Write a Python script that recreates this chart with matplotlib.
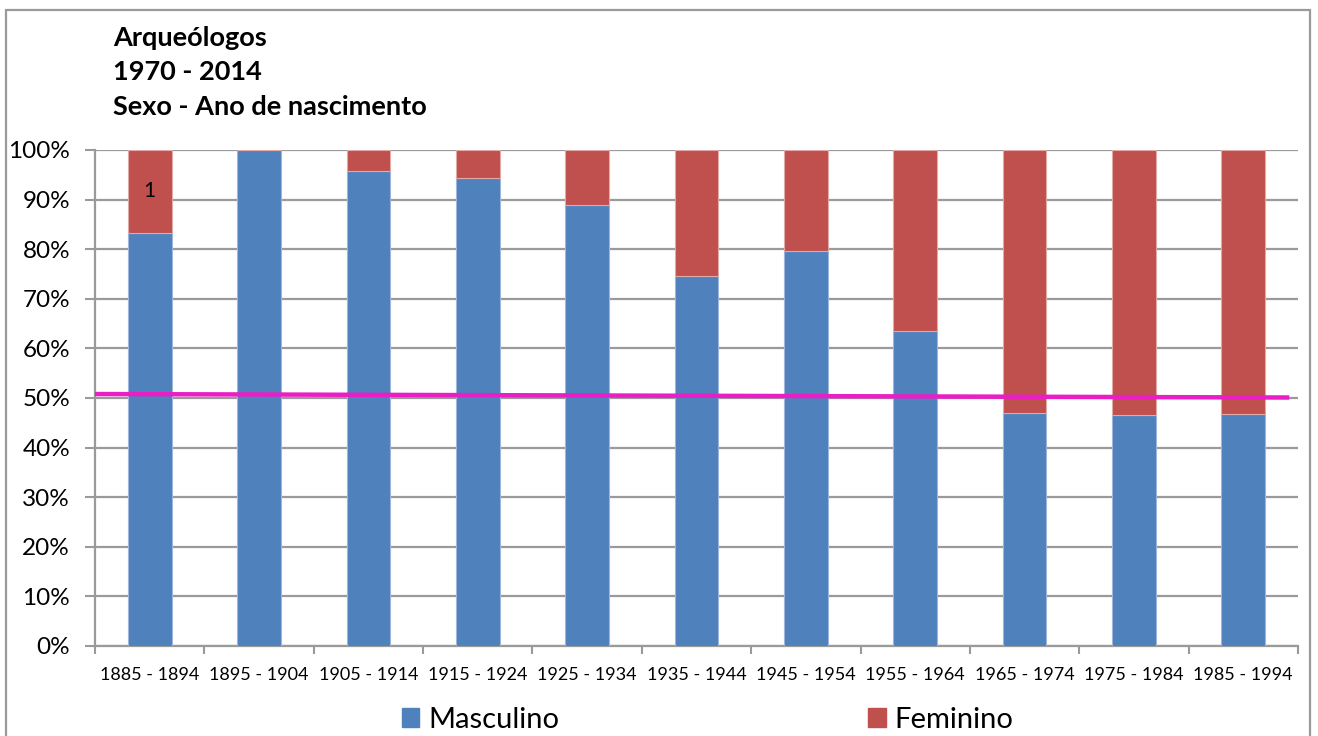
import matplotlib.pyplot as plt
import matplotlib.patches as mpatches
import numpy as np

plt.rcParams['font.family'] = ['Lato', 'DejaVu Sans']

categorias = ['1885 - 1894', '1895 - 1904', '1905 - 1914', '1915 - 1924', '1925 - 1934',
              '1935 - 1944', '1945 - 1954', '1955 - 1964', '1965 - 1974', '1975 - 1984',
              '1985 - 1994']
masculino = [83.3, 100.0, 95.8, 94.4, 88.9, 74.6, 79.6, 63.5, 47.0, 46.6, 46.8]
feminino = [100 - m for m in masculino]
# linha de tendencia (extremos)
tend_x = [-0.5, 10.4]
tend_y = [50.8, 50.1]

azul = '#4F81BD'
vermelho = '#C0504D'

fig = plt.figure(figsize=(13.18, 7.36), dpi=100)
ax = fig.add_axes([0.0721, 0.1223, 0.9127, 0.6739])

x = np.arange(len(categorias))
ax.bar(x, masculino, width=0.4, color=azul, edgecolor='#9DB6DA', linewidth=0.8, zorder=3)
ax.bar(x, feminino, width=0.4, bottom=masculino, color=vermelho, edgecolor='#E3A9A7',
       linewidth=0.8, zorder=3)
ax.text(x[0], masculino[0] + feminino[0] / 2, '1', ha='center', va='center', fontsize=15, zorder=4)
ax.plot(tend_x, tend_y, color='#E91EC4', linewidth=3.2, zorder=5)

ax.set_xlim(-0.5, len(categorias) - 0.5)
ax.set_ylim(0, 100)
ax.set_yticks(np.arange(0, 101, 10))
ax.set_yticklabels(['%d%%' % v for v in range(0, 101, 10)], fontsize=17.5)
ax.yaxis.grid(True, color='#9A9A9A', linewidth=1.6, zorder=0)
ax.set_axisbelow(True)
ax.set_xticks(x)
ax.set_xticklabels(categorias, fontsize=13)
ax.set_xticks(np.arange(-0.5, len(categorias), 1), minor=True)
ax.tick_params(axis='x', which='major', length=0, pad=15)
ax.tick_params(axis='x', which='minor', length=6, width=1.5, color='#9A9A9A')
ax.tick_params(axis='y', length=7, width=1.5, color='#9A9A9A', pad=11)
for s in ['top', 'right']:
    ax.spines[s].set_visible(False)
for s in ['left', 'bottom']:
    ax.spines[s].set_color('#9A9A9A')
    ax.spines[s].set_linewidth(1.6)

fig.text(0.0855, 0.965, 'Arqueólogos\n1970 - 2014\nSexo - Ano de nascimento', fontsize=19.5,
         fontweight='bold', va='top', linespacing=1.52)

handles = [mpatches.Patch(color=azul, label='Masculino'),
           mpatches.Patch(color=vermelho, label='Feminino')]
fig.legend(handles=handles, loc='center', bbox_to_anchor=(0.537, 0.022), ncol=2, frameon=False,
           fontsize=21, handlelength=0.6, handleheight=0.6, handletextpad=0.3, columnspacing=10.6)

border = mpatches.Rectangle((0.0045, -0.01), 0.9895, 0.9965, transform=fig.transFigure,
                            fill=False, edgecolor='#9A9A9A', linewidth=1.6)
fig.patches.append(border)

fig.savefig('out.png', dpi=100)
